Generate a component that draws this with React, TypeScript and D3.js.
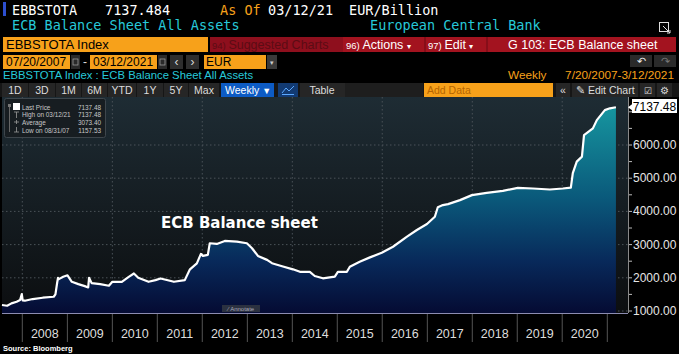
import React from "react";
import * as d3 from "d3";

// weekly ECB balance sheet (EUR bn)
const dates = [
  "2007-07-20", "2007-08-31", "2007-10-05", "2007-11-16", "2007-12-14", "2007-12-28",
  "2008-01-04", "2008-01-22", "2008-03-25", "2008-06-15", "2008-09-12", "2008-09-26",
  "2008-10-10", "2008-10-17", "2008-10-24", "2008-11-28", "2009-01-02", "2009-02-06",
  "2009-03-31", "2009-05-22", "2009-06-19", "2009-06-26", "2009-07-17", "2009-09-24",
  "2009-12-04", "2010-01-01", "2010-03-19", "2010-05-14", "2010-06-25", "2010-07-30",
  "2010-10-22", "2010-12-17", "2011-01-28", "2011-05-16", "2011-08-12", "2011-09-23",
  "2011-11-18", "2011-12-21", "2012-01-06", "2012-02-15", "2012-03-02", "2012-04-28",
  "2012-07-02", "2012-10-08", "2012-12-28", "2013-02-08", "2013-03-28", "2013-06-10",
  "2013-07-20", "2013-10-17", "2014-01-06", "2014-03-04", "2014-05-23", "2014-07-02",
  "2014-09-06", "2014-12-12", "2015-01-06", "2015-03-20", "2015-04-13", "2015-07-02",
  "2015-09-23", "2015-12-28", "2016-03-28", "2016-07-20", "2016-10-08", "2016-12-29",
  "2017-03-03", "2017-03-27", "2017-05-07", "2017-06-18", "2017-09-23", "2017-12-29",
  "2018-04-28", "2018-09-06", "2019-01-06", "2019-05-08", "2019-09-23", "2020-01-06",
  "2020-03-11", "2020-03-27", "2020-04-28", "2020-06-09", "2020-06-26", "2020-09-06",
  "2020-10-08", "2020-12-12", "2021-01-22", "2021-03-12"
];
const values = [
  1180, 1158, 1230, 1280, 1330, 1510,
  1320, 1310, 1360, 1400, 1430, 1500,
  1850, 2000, 1960, 2030, 2075, 1880,
  1810, 1750, 1710, 2000, 1840, 1810,
  1760, 1880, 1880, 2030, 2130, 2000,
  1880, 1930, 1980, 1880, 1930, 2255,
  2435, 2720, 2660, 2690, 3040, 3020,
  3110, 3090, 3040, 2890, 2660, 2540,
  2440, 2340, 2255, 2180, 2180, 2055,
  1985, 2035, 2180, 2180, 2335, 2485,
  2615, 2755, 2935, 3240, 3440, 3620,
  3840, 4125, 4190, 4220, 4340, 4490,
  4560, 4620, 4710, 4690, 4660, 4690,
  4715, 5150, 5500, 5650, 6300, 6500,
  6750, 7050, 7105, 7137.48
];

const yearLabels = ["2008", "2009", "2010", "2011", "2012", "2013", "2014", "2015", "2016", "2017", "2018", "2019", "2020"];
const yTicks = [1000, 2000, 3000, 4000, 5000, 6000];
const legendLabels = ["Last Price", "High on 03/12/21", "Average", "Low on 08/31/07"];
const legendValues = ["7137.48", "7137.48", "3073.40", "1157.53"];
const rangeButtons = ["1D", "3D", "1M", "6M", "YTD", "1Y", "5Y", "Max"];

const W = 679, H = 354;
const ORANGE = "#f7a11a";
const RED = "#a3131f";
const CYAN = "#27c9d9";
const SANS = "'Liberation Sans', Arial, sans-serif";
const MONO = "'DejaVu Sans Mono', monospace";

export default function App() {
  const parse = d3.timeParse("%Y-%m-%d");
  const data = dates.map((d, i) => ({ date: parse(d) as Date, value: values[i] }));

  const plotTop = 97, plotBottom = 313, plotLeft = 2, plotRight = 628;

  const x = d3.scaleTime()
    .domain([new Date(2008, 0, 1), new Date(2021, 0, 1)])
    .range([22.3, 607.3]);
  const y = d3.scaleLinear().domain([1000, 7000]).range([311, 111.8]);

  const areaGen = d3.area<{ date: Date; value: number }>()
    .x(d => x(d.date))
    .y0(plotBottom)
    .y1(d => y(d.value));
  const lineGen = d3.line<{ date: Date; value: number }>()
    .x(d => x(d.date))
    .y(d => y(d.value));

  const yearStarts = yearLabels.map(t => new Date(+t, 0, 1));
  const minorTicks = d3.range(1000, 7001, 500);
  const last = data[data.length - 1];

  const btnEdges = [2, 29, 56, 82, 108, 137, 164, 189, 220];

  return (
    <svg width={W} height={H} style={{ position: "fixed", left: 0, top: 0 }}>
      <defs>
        <linearGradient id="bg" x1="0" y1={plotTop} x2="0" y2={plotBottom} gradientUnits="userSpaceOnUse">
          <stop offset="0" stopColor="#1e2c34" />
          <stop offset="1" stopColor="#0c0e10" />
        </linearGradient>
        <linearGradient id="fill" x1="0" y1={y(7137)} x2="0" y2={plotBottom} gradientUnits="userSpaceOnUse">
          <stop offset="0" stopColor="#16959f" />
          <stop offset="0.45" stopColor="#0a587a" />
          <stop offset="0.75" stopColor="#08295a" />
          <stop offset="1" stopColor="#050b33" />
        </linearGradient>
      </defs>
      <rect width={W} height={H} fill="#000" />

      {/* header row 1 */}
      <rect x={3} y={2} width={3} height={14} fill="#2d4fcf" />
      <g fontFamily={MONO} fontSize={13.5}>
        <text x={12} y={15} fill="#fff">EBBSTOTA</text>
        <text x={105} y={15} fill="#fff">7137.484</text>
        <text x={220} y={15} fill={ORANGE}>As Of</text>
        <text x={268} y={15} fill="#fff">03/12/21</text>
        <text x={349} y={15} fill="#fff">EUR/Billion</text>
        <text x={12} y={30} fill={CYAN}>ECB Balance Sheet All Assets</text>
        <text x={370} y={30} fill={CYAN}>European Central Bank</text>
      </g>
      <g stroke="#ddd" strokeWidth={1} fill="none">
        <rect x={659.5} y={22.5} width={9} height={9} />
        <path d="M663 26 L670 33 M667 33 L670 33 L670 30" />
      </g>

      {/* header row 3 */}
      <rect x={3} y={37} width={205} height={15} fill={ORANGE} />
      <text x={6} y={49} fontFamily={SANS} fontSize={13} fill="#000">EBBSTOTA Index</text>
      <rect x={210} y={37} width={133} height={15} fill="#8e0f1d" />
      <rect x={343} y={37} width={333} height={15} fill={RED} />
      <g fontFamily={SANS} fontSize={12.5}>
        <text x={212} y={49} fill="#5c0c14"><tspan fontSize={9.5}>94) </tspan>Suggested Charts</text>
        <text x={346} y={49} fill="#fff"><tspan fontSize={9.5}>96) </tspan>Actions <tspan fontSize={8}>▾</tspan></text>
        <text x={428} y={49} fill="#fff"><tspan fontSize={9.5}>97) </tspan>Edit <tspan fontSize={8}>▾</tspan></text>
        <text x={508} y={49} fill="#fff">G 103: ECB Balance sheet</text>
      </g>
      <g stroke="#6a0b14">
        <line x1={425} x2={425} y1={37} y2={52} />
        <line x1={487} x2={487} y1={37} y2={52} />
      </g>

      {/* header row 4 */}
      <g fontFamily={SANS} fontSize={12}>
        <rect x={3} y={55} width={67} height={14} fill={ORANGE} />
        <text x={6} y={66} fill="#000">07/20/2007</text>
        <rect x={71} y={55} width={9} height={14} fill="#2a2a2a" />
        <rect x={73} y={59} width={5} height={6} fill="none" stroke="#999" strokeWidth={0.8} />
        <text x={83} y={66} fill="#ddd">-</text>
        <rect x={90} y={55} width={67} height={14} fill={ORANGE} />
        <text x={93} y={66} fill="#000">03/12/2021</text>
        <rect x={158} y={55} width={9} height={14} fill="#2a2a2a" />
        <rect x={160} y={59} width={5} height={6} fill="none" stroke="#999" strokeWidth={0.8} />
        <rect x={170} y={55} width={13} height={14} fill="#2e2e2e" />
        <text x={176.5} y={66} fill="#ddd" textAnchor="middle">‹</text>
        <rect x={186} y={55} width={13} height={14} fill="#2e2e2e" />
        <text x={192.5} y={66} fill="#ddd" textAnchor="middle">›</text>
        <rect x={204} y={55} width={62} height={14} fill={ORANGE} />
        <text x={206} y={66} fill="#000">EUR</text>
        <rect x={267} y={55} width={10} height={14} fill="#3a3a3a" />
        <text x={272} y={65} fill="#ccc" fontSize={7} textAnchor="middle">▾</text>
        <rect x={630} y={55} width={22} height={12} fill="#2a2a2a" />
        <rect x={654} y={55} width={22} height={12} fill="#2a2a2a" />
        <text x={641} y={65} fill="#eee" textAnchor="middle" fontSize={11}>↶</text>
        <text x={665} y={65} fill="#777" textAnchor="middle" fontSize={11}>↷</text>
      </g>

      {/* header row 5 */}
      <g fontFamily={SANS} fontSize={11.3}>
        <text x={3} y={79} fill={CYAN}>EBBSTOTA Index : ECB Balance Sheet All Assets</text>
        <text x={508} y={79} fill={ORANGE} fontSize={11.8}>Weekly</text>
        <text x={674} y={79} fill={ORANGE} fontSize={11.8} textAnchor="end">7/20/2007-3/12/2021</text>
      </g>

      {/* button bar */}
      <rect x={0} y={83} width={W} height={14} fill="#161616" />
      <g fontFamily={SANS} fontSize={10.5}>
        {rangeButtons.map((b, i) => (
          <g key={b}>
            <rect x={btnEdges[i]} y={83} width={btnEdges[i + 1] - btnEdges[i] - 1} height={14} fill="#262626" />
            <text x={(btnEdges[i] + btnEdges[i + 1] - 1) / 2} y={94} fill="#ddd" textAnchor="middle">{b}</text>
          </g>
        ))}
        <rect x={221} y={83} width={53} height={14} fill="#0d5bc4" />
        <text x={225} y={94} fill="#fff">Weekly <tspan fontSize={9}>▼</tspan></text>
        <rect x={278} y={83} width={20} height={14} fill="#123a72" />
        <path d="M282 93 L286 88 L289 91 L294 86 M282 94.5 L294 94.5" stroke="#5aa8ff" fill="none" strokeWidth={1} />
        <rect x={300} y={83} width={45} height={14} fill="#262626" />
        <text x={322} y={94} fill="#ddd" textAnchor="middle">Table</text>
        <rect x={345} y={83} width={78} height={14} fill="#1e1e1e" />
        <rect x={424} y={83} width={129} height={14} fill={ORANGE} />
        <text x={427} y={94} fill="#b56500">Add Data</text>
        <rect x={556} y={83} width={14} height={14} fill="#262626" />
        <text x={563} y={94} fill="#ddd" textAnchor="middle">«</text>
        <rect x={572} y={83} width={66} height={14} fill="#262626" />
        <text x={576} y={94} fill="#ddd">✎ Edit Chart</text>
        <rect x={640} y={83} width={15} height={14} fill="#262626" />
        <text x={647.5} y={94} fill="#ddd" textAnchor="middle" fontSize={9}>☑</text>
        <rect x={657} y={83} width={15} height={14} fill="#262626" />
        <text x={664.5} y={94} fill="#ddd" textAnchor="middle" fontSize={10}>⚙</text>
      </g>

      {/* plot area */}
      <rect x={plotLeft} y={plotTop} width={plotRight - plotLeft} height={plotBottom - plotTop} fill="url(#bg)" />
      <g stroke="#4a5258" strokeDasharray="1.5,2.5" strokeWidth={1}>
        {yTicks.map(t => (
          <line key={t} x1={plotLeft} x2={plotRight} y1={y(t)} y2={y(t)} />
        ))}
        {yearStarts.filter((_, i) => i % 2 === 0).map(d => (
          <line key={+d} x1={x(d)} x2={x(d)} y1={plotTop} y2={plotBottom} />
        ))}
      </g>
      <path d={areaGen(data) ?? ""} fill="url(#fill)" />
      <path d={lineGen(data) ?? ""} fill="none" stroke="#fff" strokeWidth={2.2} strokeLinejoin="round" />

      {/* annotation */}
      <text x={161} y={228} fontFamily="'DejaVu Sans', sans-serif" fontWeight="bold" fontSize={15} fill="#fff">ECB Balance sheet</text>

      {/* Annotate button */}
      <rect x={222} y={305} width={38} height={7} fill="#2b3140" />
      <text x={241} y={311} fontFamily={SANS} fontSize={6} fill="#aab" textAnchor="middle">⁄ Annotate</text>

      {/* legend */}
      <rect x={4.5} y={98.5} width={101} height={39} rx={2} fill="#171d21" stroke="#3e464c" />
      <rect x={8} y={104} width={3} height={3} fill="#777" />
      <line x1={9.5} x2={9.5} y1={107} y2={132} stroke="#666" />
      <rect x={13} y={103} width={7} height={7} fill="#fff" />
      <g stroke="#999" strokeWidth={0.8}>
        <path d="M14 112 L19 112 M16.5 112 L16.5 118" />
        <path d="M14 122 L19 122 M16.5 120 L16.5 124" />
        <path d="M14 132 L19 132 M16.5 127 L16.5 132" />
      </g>
      <g fontFamily={SANS} fontSize={6.4} fill="#c8c8c8">
        {legendLabels.map((l, i) => (
          <g key={l}>
            <text x={22} y={109.5 + i * 7.8}>{l}</text>
            <text x={101} y={109.5 + i * 7.8} textAnchor="end">{legendValues[i]}</text>
          </g>
        ))}
      </g>

      {/* right axis */}
      <line x1={plotRight + 0.5} x2={plotRight + 0.5} y1={plotTop} y2={plotBottom} stroke="#8a8a8a" />
      <g stroke="#bbb">
        {minorTicks.map(t => (
          <line key={t} x1={plotRight + 1} x2={plotRight + 4} y1={y(t)} y2={y(t)} />
        ))}
      </g>
      <g fontFamily={SANS} fontSize={12} fill="#e6e6e6">
        {yTicks.map(t => (
          <text key={t} x={633} y={y(t) + 4}>{d3.format(".2f")(t)}</text>
        ))}
      </g>
      <rect x={632} y={99} width={45} height={14} fill="#fff" />
      <path d={`M628 ${y(last.value)} L632 ${y(last.value) - 3} L632 ${y(last.value) + 3} Z`} fill="#fff" />
      <text x={654.5} y={110.5} fontFamily={SANS} fontSize={12} fill="#000" textAnchor="middle">{d3.format(".2f")(last.value)}</text>

      {/* bottom axis */}
      <line x1={plotLeft} x2={plotRight} y1={plotBottom + 0.5} y2={plotBottom + 0.5} stroke="#8c8cb0" />
      <g stroke="#555">
        {[...yearStarts, new Date(2021, 0, 1)].map(d => (
          <line key={+d} x1={x(d)} x2={x(d)} y1={plotBottom + 1} y2={342} />
        ))}
      </g>
      <g fontFamily={SANS} fontSize={12.5} fill="#ddd" textAnchor="middle">
        {yearStarts.map((d, i) => (
          <text key={+d} x={(x(d) + x(new Date(d.getFullYear() + 1, 0, 1))) / 2} y={338}>{yearLabels[i]}</text>
        ))}
      </g>
      <text x={3} y={351} fontFamily={SANS} fontWeight="bold" fontSize={7.5} fill="#fff">Source: Bloomberg</text>
    </svg>
  );
}
